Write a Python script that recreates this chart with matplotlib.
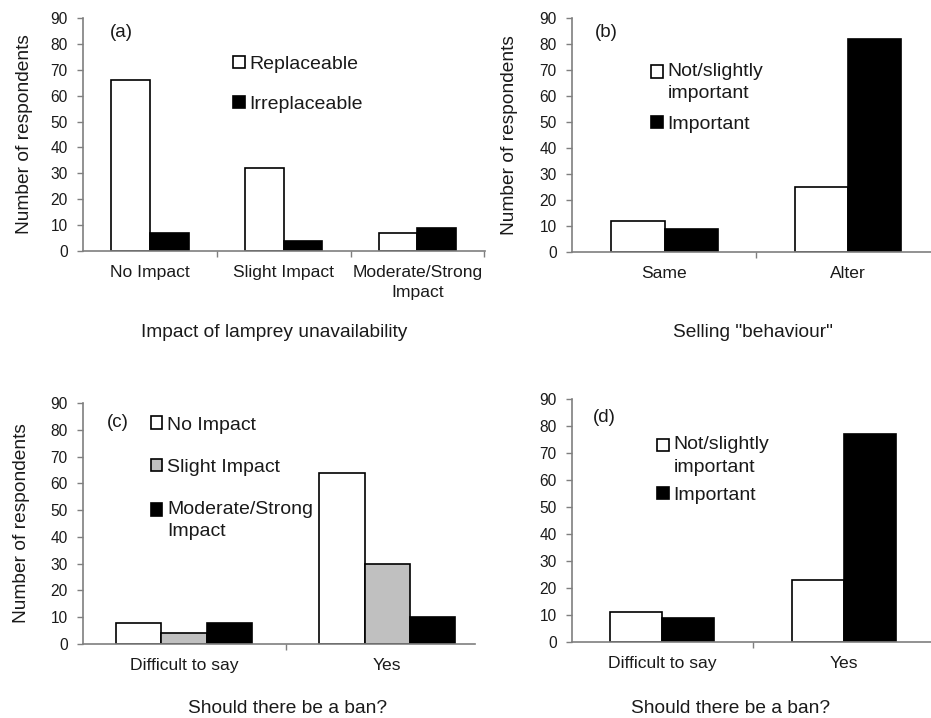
import matplotlib
matplotlib.use("Agg")
import matplotlib.pyplot as plt
import matplotlib.patches as mpatches
from matplotlib.legend_handler import HandlerPatch, update_from_first_child
import numpy as np

plt.rcParams['font.family'] = ['Liberation Sans', 'DejaVu Sans']

# ---- data ----
a_categories = ["No Impact", "Slight Impact", "Moderate/Strong\nImpact"]
a_replaceable = [66, 32, 7]
a_irreplaceable = [7, 4, 9]

b_categories = ["Same", "Alter"]
b_not_important = [12, 25]
b_important = [9, 82]

c_categories = ["Difficult to say", "Yes"]
c_no_impact = [8, 64]
c_slight_impact = [4, 30]
c_moderate_impact = [8, 10]

d_categories = ["Difficult to say", "Yes"]
d_not_important = [11, 23]
d_important = [9, 77]

yticks = list(range(0, 91, 10))

W, H = 931, 718
fig = plt.figure(figsize=(W / 100, H / 100), dpi=100)
TXT = '#1a1a1a'
SPINE = '#7f7f7f'


def make_ax(l, r, t, b):
    return fig.add_axes([l / W, 1 - b / H, (r - l) / W, (b - t) / H])


def style(ax, cats, xlim, bounds, ylabel=True, ylabel_x=-0.16):
    ax.set_ylim(0, 90)
    ax.set_xlim(*xlim)
    ax.set_yticks(yticks)
    ax.set_xticks(np.arange(len(cats)))
    ax.set_xticklabels(cats, fontsize=12.6, color=TXT, linespacing=1.4)
    ax.set_xticks(bounds, minor=True)
    ax.tick_params(axis='x', which='major', length=0, pad=10)
    ax.tick_params(axis='x', which='minor', length=4, color=SPINE, width=1)
    ax.tick_params(axis='y', length=4, color=SPINE, width=1, pad=7,
                   labelsize=11.2, labelcolor=TXT)
    for s in ['top', 'right']:
        ax.spines[s].set_visible(False)
    for s in ['left', 'bottom']:
        ax.spines[s].set_color(SPINE)
        ax.spines[s].set_linewidth(1.2)
    if ylabel:
        ax.set_ylabel("Number of respondents", fontsize=13.8, color=TXT)
        ax.yaxis.set_label_coords(ylabel_x, 0.5)
        ax.yaxis.label.set_va('center')


def set_xlabel(ax, text, x, y):
    ax.set_xlabel(text, fontsize=13.8, color=TXT)
    ax.xaxis.set_label_coords(x, y)
    ax.xaxis.label.set_va('center')


def top_aligned_patch(legend, orig_handle, xdescent, ydescent, width, height, fontsize):
    # put the swatch beside the first line of a two-line label
    return mpatches.Rectangle((-xdescent, -ydescent + 7.9), width, height)


def legend(ax, x, y, spacing, multiline=()):
    hmap = {h: HandlerPatch(patch_func=top_aligned_patch,
                            update_func=update_from_first_child)
            for h in multiline}
    leg = ax.legend(loc='upper left', bbox_to_anchor=(x, y), frameon=False,
                    fontsize=14, handlelength=0.6, handleheight=0.6,
                    handletextpad=0.25, borderpad=0, borderaxespad=0,
                    labelspacing=spacing, labelcolor=TXT, handler_map=hmap)
    for t in leg.get_texts():
        t.set_linespacing(1.4)
    return leg


bar_kw = dict(edgecolor='black', linewidth=1.2)

# ---- (a) ----
ax = make_ax(83, 485, 18, 251)
x = np.arange(len(a_categories))
w = 0.288
ax.bar(x - w / 2, a_replaceable, w, color='white', label='Replaceable', **bar_kw)
ax.bar(x + w / 2, a_irreplaceable, w, color='black', label='Irreplaceable', **bar_kw)
style(ax, a_categories, (-0.501, 2.505), [0.5, 1.5, 2.5], ylabel_x=-0.145)
set_xlabel(ax, "Impact of lamprey unavailability", 0.475, -0.348)
ax.text(0.067, 0.936, "(a)", transform=ax.transAxes, fontsize=13.5,
        color=TXT, ha='left', va='center')
legend(ax, 0.373, 0.838, 1.2)

# ---- (b) ----
ax = make_ax(572, 931, 18, 252)
x = np.arange(len(b_categories))
w = 0.289
hb = ax.bar(x - w / 2, b_not_important, w, color='white',
            label='Not/slightly\nimportant', **bar_kw)
ax.bar(x + w / 2, b_important, w, color='black', label='Important', **bar_kw)
style(ax, b_categories, (-0.504, 1.452), [0.5], ylabel_x=-0.175)
set_xlabel(ax, 'Selling "behaviour"', 0.504, -0.346)
ax.text(0.064, 0.936, "(b)", transform=ax.transAxes, fontsize=13.5,
        color=TXT, ha='left', va='center')
legend(ax, 0.22, 0.807, 0.7, multiline=[hb])

# ---- (c) ----
ax = make_ax(83, 475, 403, 644)
x = np.arange(len(c_categories))
w = 0.222
ax.bar(x - w, c_no_impact, w, color='white', label='No Impact', **bar_kw)
ax.bar(x, c_slight_impact, w, color='#c0c0c0', label='Slight Impact', **bar_kw)
hc = ax.bar(x + w, c_moderate_impact, w, color='black',
            label='Moderate/Strong\nImpact', **bar_kw)
style(ax, c_categories, (-0.4975, 1.433), [0.5], ylabel_x=-0.158)
set_xlabel(ax, "Should there be a ban?", 0.523, -0.266)
ax.text(0.061, 0.921, "(c)", transform=ax.transAxes, fontsize=13.5,
        color=TXT, ha='left', va='center')
legend(ax, 0.173, 0.944, 1.3, multiline=[hc])

# ---- (d) ----
ax = make_ax(572, 931, 399, 642)
x = np.arange(len(d_categories))
w = 0.286
hd = ax.bar(x - w / 2, d_not_important, w, color='white',
            label='Not/slightly\nimportant', **bar_kw)
ax.bar(x + w / 2, d_important, w, color='black', label='Important', **bar_kw)
style(ax, d_categories, (-0.495, 1.478), [0.5], ylabel=False)
set_xlabel(ax, "Should there be a ban?", 0.443, -0.272)
ax.text(0.058, 0.922, "(d)", transform=ax.transAxes, fontsize=13.5,
        color=TXT, ha='left', va='center')
legend(ax, 0.237, 0.846, 0.56, multiline=[hd])

fig.savefig("out.png", dpi=100, facecolor='white')
